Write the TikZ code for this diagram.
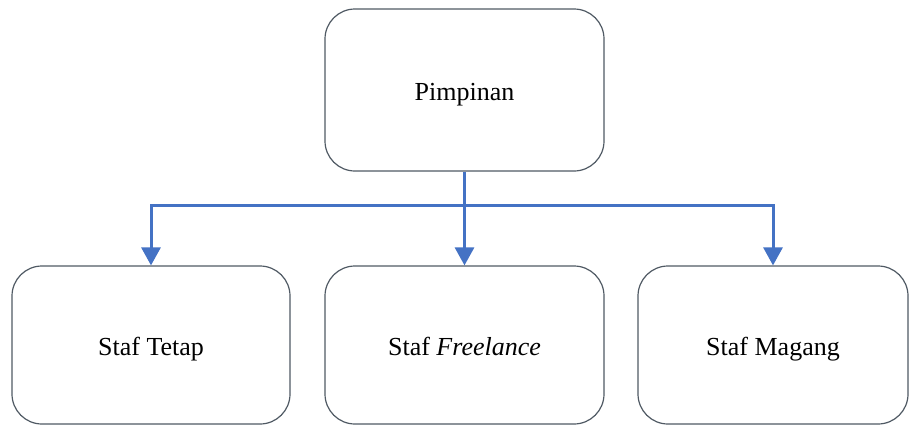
\documentclass[tikz,border=0pt]{standalone}
\usepackage{fontspec}
\setmainfont{Liberation Serif}
\usetikzlibrary{arrows.meta}
\definecolor{linkblue}{HTML}{4472C4}
\definecolor{boxgray}{HTML}{505A64}
\begin{document}
\begin{tikzpicture}[x=1pt,y=-1pt,
  orgbox/.style={draw=boxgray,line width=1.2pt,rounded corners=30pt,fill=white,
    inner sep=0pt,text height=24pt,text depth=2.2pt,font=\fontsize{26}{30}\selectfont},
  link/.style={draw=linkblue,line width=3pt},
  linkarrow/.style={link,-{Triangle[length=18pt,width=19pt]}}]
\useasboundingbox (0,0) rectangle (909,426);
\node[orgbox,minimum width=279pt,minimum height=162pt] (P) at (464.5,90) {Pimpinan};
\node[orgbox,minimum width=278pt,minimum height=158pt] (A) at (151,345) {Staf Tetap};
\node[orgbox,minimum width=279pt,minimum height=158pt] (B) at (464.5,345) {Staf \textit{Freelance}};
\node[orgbox,minimum width=270pt,minimum height=158pt] (C) at (773,345) {Staf Magang};
\coordinate (J) at (464.5,205);
\draw[link] (P.south) -- (J);
\draw[linkarrow] (J) -| (A.north);
\draw[linkarrow] (J) -- (B.north);
\draw[linkarrow] (J) -| (C.north);
\end{tikzpicture}
\end{document}
